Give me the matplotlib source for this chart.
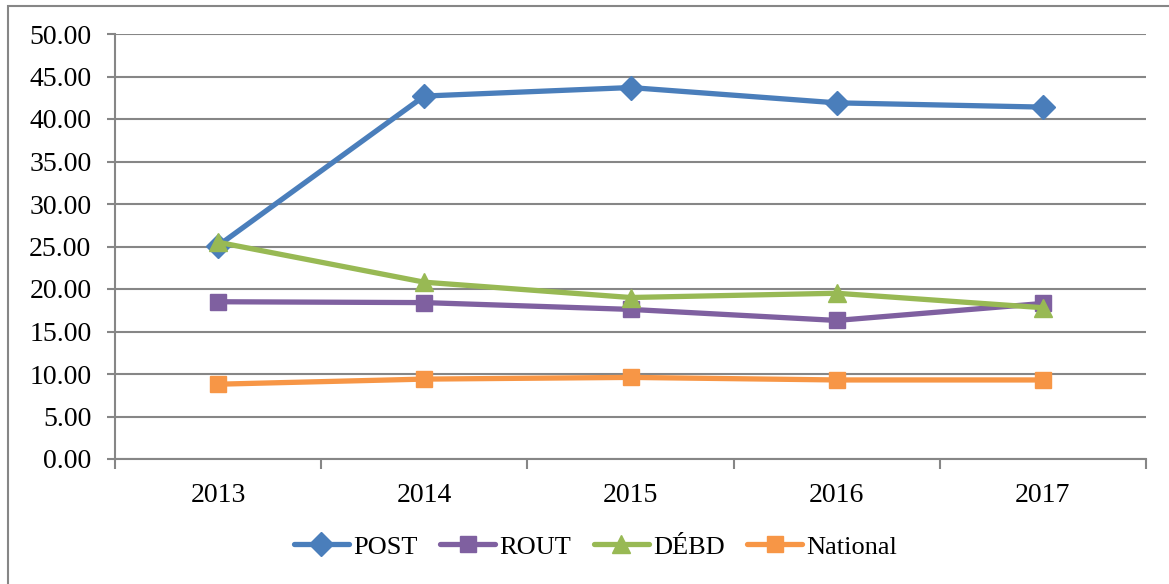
import matplotlib
matplotlib.use("Agg")
import matplotlib.pyplot as plt
from matplotlib.patches import Rectangle

plt.rcParams['font.family'] = ['Liberation Serif', 'DejaVu Serif']

years = ["2013", "2014", "2015", "2016", "2017"]
post = [25.1, 42.7, 43.7, 41.9, 41.4]
rout = [18.5, 18.4, 17.6, 16.3, 18.3]
debd = [25.5, 20.8, 19.0, 19.5, 17.8]
national = [8.8, 9.4, 9.6, 9.3, 9.3]

series = [
    ("POST", post, "#4A7EBB", "D", 12),
    ("ROUT", rout, "#7F60A0", "s", 12),
    ("DÉBD", debd, "#98B954", "^", 13),
    ("National", national, "#F79646", "s", 12),
]

fig = plt.figure(figsize=(11.69, 5.84), dpi=100)
fig.patches.append(Rectangle((8/1169, -0.1), 1.2, 1 - 6/584 + 0.1, transform=fig.transFigure,
                             fill=False, edgecolor="#868686", linewidth=1.5))
ax = fig.add_axes([115/1169, 1 - 459/584, (1146 - 115)/1169, (459 - 34)/584])

x = list(range(len(years)))
for name, vals, col, mk, ms in series:
    ax.plot(x, vals, color=col, linewidth=3.8, marker=mk, markersize=ms,
            markerfacecolor=col, markeredgecolor=col, label=name, solid_capstyle='round')

ax.set_xlim(-0.5, 4.5)
ax.set_ylim(0, 50)
ax.set_yticks([i * 5 for i in range(11)])
ax.set_yticklabels([f"{i*5:.2f}" for i in range(11)], fontsize=20)
ax.set_xticks(x)
ax.set_xticklabels(years, fontsize=20)
ax.set_xticks([i - 0.5 for i in range(6)], minor=True)
ax.tick_params(axis='x', which='major', length=0, pad=17)
ax.tick_params(axis='x', which='minor', length=7, color="#868686", width=1.5)
ax.tick_params(axis='y', length=6, color="#868686", width=1.5, pad=11)
ax.grid(axis='y', color="#868686", linewidth=1.5)
ax.set_axisbelow(True)
for s in ['top', 'right']:
    ax.spines[s].set_visible(False)
for s in ['left', 'bottom']:
    ax.spines[s].set_color("#868686")
    ax.spines[s].set_linewidth(1.5)

ax.legend(loc='center', bbox_to_anchor=(0.466, -0.207), ncol=4, frameon=False,
          fontsize=19, handlelength=2.1, handletextpad=0.15, columnspacing=0.85,
          borderaxespad=0)

fig.savefig("out.png", dpi=100)
